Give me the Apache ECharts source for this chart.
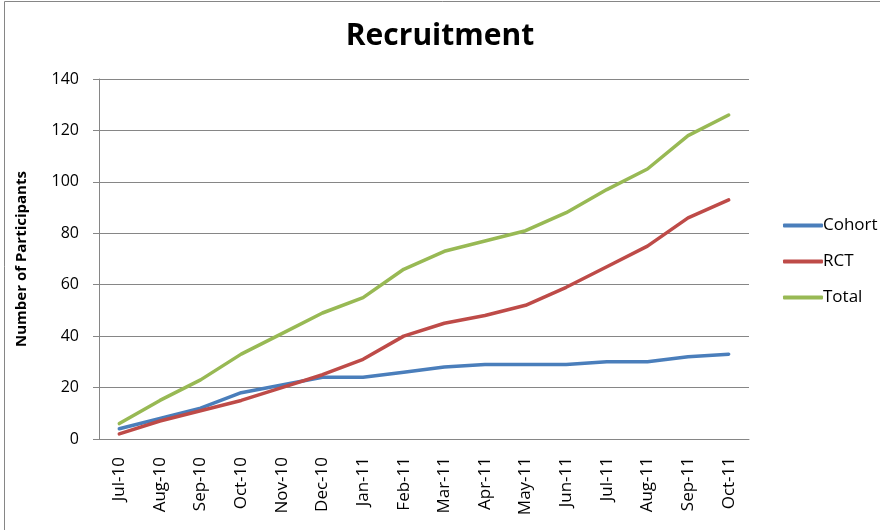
<!DOCTYPE html>
<html><head><meta charset="utf-8">
<script src="https://cdn.jsdelivr.net/npm/echarts@6/dist/echarts.min.js"></script>
<style>html,body{margin:0;padding:0;background:#fff}#c{width:880px;height:530px}</style>
</head><body><div id="c"></div>
<script>
const categories = ["Jul-10","Aug-10","Sep-10","Oct-10","Nov-10","Dec-10","Jan-11","Feb-11","Mar-11","Apr-11","May-11","Jun-11","Jul-11","Aug-11","Sep-11","Oct-11"];
const cohort = [4,8,12,18,21,24,24,26,28,29,29,29,30,30,32,33];
const rct = [2,7,11,15,20,25,31,40,45,48,52,59,67,75,86,93];
const total = [6,15,23,33,41,49,55,66,73,77,81,88,97,105,118,126];
const yTicks = [0,20,40,60,80,100,120,140];

const FONT = '"Open Sans", "Noto Sans", sans-serif';
const chart = echarts.init(document.getElementById('c'), null, {renderer:'canvas'});
function mk(name, data, color){
  return {name, type:'line', data, symbol:'none', smooth:false,
    lineStyle:{color, width:3.5, cap:'round', join:'round'}, itemStyle:{color}};
}
chart.setOption({
  animation:false,
  backgroundColor:'#fff',
  graphic:[{type:'rect', shape:{x:4.5,y:1.5,width:880,height:540}, style:{fill:'none', stroke:'#868686', lineWidth:1}, silent:true}],
  title:{text:'Recruitment', left:'center', top:16, textStyle:{fontFamily:FONT, fontWeight:'bold', fontSize:30, color:'#000'}},
  grid:{left:99, right:131, top:79, bottom:91, containLabel:false},
  legend:{orient:'vertical', left:778, top:212, itemGap:19, itemWidth:40, itemHeight:4, icon:'roundRect',
    textStyle:{fontFamily:FONT, fontSize:17, color:'#000', padding:[0,0,0,-5]},
    data:['Cohort','RCT','Total']},
  xAxis:{type:'category', data:categories, boundaryGap:true,
    axisLine:{lineStyle:{color:'#868686', width:1}},
    axisTick:{show:false},
    axisLabel:{rotate:90, fontFamily:FONT, fontSize:17, color:'#000', margin:18, interval:0}},
  yAxis:{type:'value', min:yTicks[0], max:yTicks[yTicks.length-1], interval:20,
    name:'Number of Participants', nameLocation:'middle', nameGap:70,
    nameTextStyle:{fontFamily:FONT, fontWeight:'bold', fontSize:15, color:'#000'},
    axisLine:{show:true, lineStyle:{color:'#868686'}},
    axisTick:{show:true, length:6, lineStyle:{color:'#868686'}},
    splitLine:{lineStyle:{color:'#868686', width:1}},
    axisLabel:{fontFamily:FONT, fontSize:16, color:'#000', margin:20}},
  series:[mk('Cohort', cohort, '#4A7EBB'), mk('RCT', rct, '#BE4B48'), mk('Total', total, '#98B954')]
});
</script></body></html>
